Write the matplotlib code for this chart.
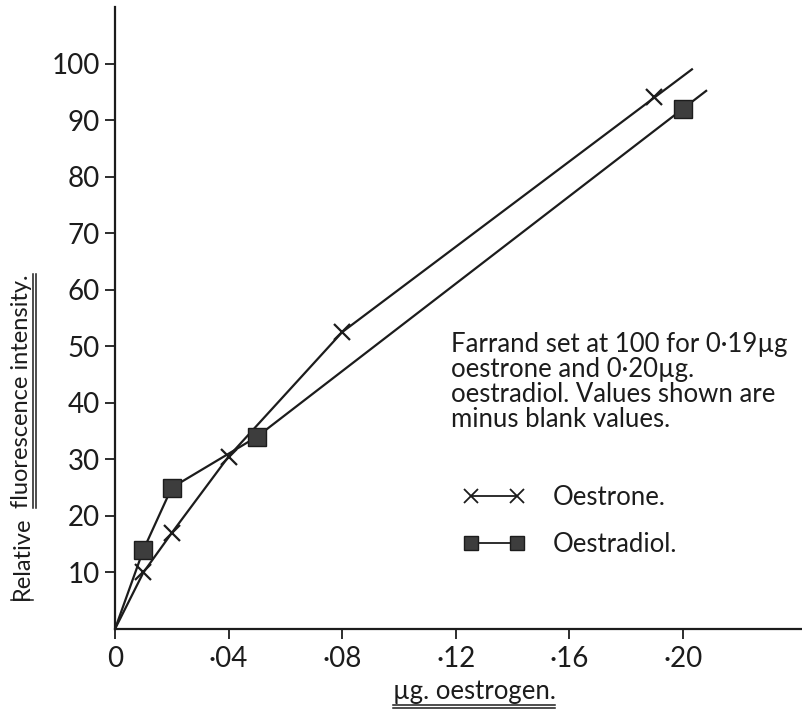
import matplotlib
matplotlib.use("Agg")
import matplotlib.pyplot as plt
from matplotlib.lines import Line2D
import numpy as np

plt.rcParams['font.family'] = ['Lato', 'DejaVu Sans']

# µg of oestrogen vs. relative fluorescence (minus blank)
oestrone_x = [0, 0.01, 0.02, 0.04, 0.08, 0.19]
oestrone_y = [0, 10, 17, 30.5, 52.5, 94]
oestradiol_x = [0, 0.01, 0.02, 0.05, 0.20]
oestradiol_y = [0, 14, 25, 34, 92]

x_ticks = [0, 0.04, 0.08, 0.12, 0.16, 0.20]
x_tick_labels = ["0", "·04", "·08", "·12", "·16", "·20"]
y_ticks = [10, 20, 30, 40, 50, 60, 70, 80, 90, 100]

note = ("Farrand set at 100 for 0·19µg\n"
        "oestrone and 0·20µg.\n"
        "oestradiol. Values shown are\n"
        "minus blank values.")

INK = "#1c1c1c"
W, H = 803, 716


def run_on(xs, ys, dx):
    # carry the last ruled segment a little past the final point
    x0, x1 = xs[-2], xs[-1]
    y0, y1 = ys[-2], ys[-1]
    t = (x1 + dx - x0) / (x1 - x0)
    return list(xs) + [x0 + t * (x1 - x0)], list(ys) + [y0 + t * (y1 - y0)]


fig = plt.figure(figsize=(W / 100, H / 100), dpi=100)
ax = fig.add_axes([115 / W, (H - 629) / H, (W - 115) / W, (629 - 7) / H])

ex, ey = run_on(oestrone_x, oestrone_y, 0.0135)
ax.plot(ex, ey, color=INK, lw=1.6, solid_capstyle='butt')
ax.plot(oestrone_x[1:], oestrone_y[1:], ls='none', marker='x', ms=11,
        mew=1.6, color=INK)

dx_, dy_ = run_on(oestradiol_x, oestradiol_y, 0.0085)
ax.plot(dx_, dy_, color=INK, lw=1.6, solid_capstyle='butt')
ax.plot(oestradiol_x[1:], oestradiol_y[1:], ls='none', marker='s', ms=13,
        mfc="#3d3d3d", mec=INK, mew=1.0)

ax.set_xlim(0, 0.2423)
ax.set_ylim(0, 110)
ax.set_xticks(x_ticks)
ax.set_xticklabels(x_tick_labels)
ax.set_yticks(y_ticks)
ax.set_yticklabels([str(v) for v in y_ticks])
ax.tick_params(direction='out', length=7, width=1.3, colors=INK,
               labelsize=20, pad=4)
ax.tick_params(axis='x', pad=5)
for side in ('top', 'right'):
    ax.spines[side].set_visible(False)
for side in ('left', 'bottom'):
    ax.spines[side].set_linewidth(1.6)
    ax.spines[side].set_color(INK)
ax.set_facecolor('none')

# explanatory note
fig.text(451 / W, 1 - 332 / H, note, fontsize=18.5, color=INK,
         ha='left', va='top', linespacing=1.0)

# key
h1 = Line2D([], [], color=INK, lw=1.3, marker='x', ms=10, mew=1.3)
h2 = Line2D([], [], color=INK, lw=1.3, marker='s', ms=10,
            mfc="#3d3d3d", mec=INK)
fig.legend([h1, h2], ["Oestrone.", "Oestradiol."], numpoints=2,
           loc='upper left', bbox_to_anchor=(440 / W, 1 - 462 / H),
           frameon=False, fontsize=18.5, handlelength=2.4,
           handletextpad=1.1, labelspacing=0.85, labelcolor=INK)

# axis titles, drawn as free text so they can be ruled underneath
xlab = fig.text(474 / W, 1 - 692 / H, "µg. oestrogen.", fontsize=18.5,
                color=INK, ha='center', va='center')
ylab1 = fig.text(22 / W, 1 - 600 / H, "Relative", fontsize=17, color=INK,
                 rotation=90, ha='center', va='bottom')
ylab2 = fig.text(22 / W, 1 - 510 / H, "fluorescence intensity.", fontsize=17,
                 color=INK, rotation=90, ha='center', va='bottom')

fig.canvas.draw()
r = fig.canvas.get_renderer()


def rule(txt, offsets, vertical=False):
    bb = txt.get_window_extent(r)
    for off in offsets:
        if vertical:
            xs = [bb.x1 + off] * 2
            ys = [bb.y0, bb.y1]
        else:
            xs = [bb.x0, bb.x1]
            ys = [bb.y0 - off] * 2
        fig.add_artist(Line2D(np.array(xs) / W, np.array(ys) / H,
                              transform=fig.transFigure, color=INK, lw=1.1))


# place the second half of the y title just after the first
b1 = ylab1.get_window_extent(r)
ylab2.set_y((b1.y1 + 9) / H)
fig.canvas.draw()

rule(xlab, [0, 3.5])
rule(ylab1, [0])
rule(ylab2, [0, 3.5], vertical=True)

fig.savefig("out.png", dpi=100, facecolor='white')
